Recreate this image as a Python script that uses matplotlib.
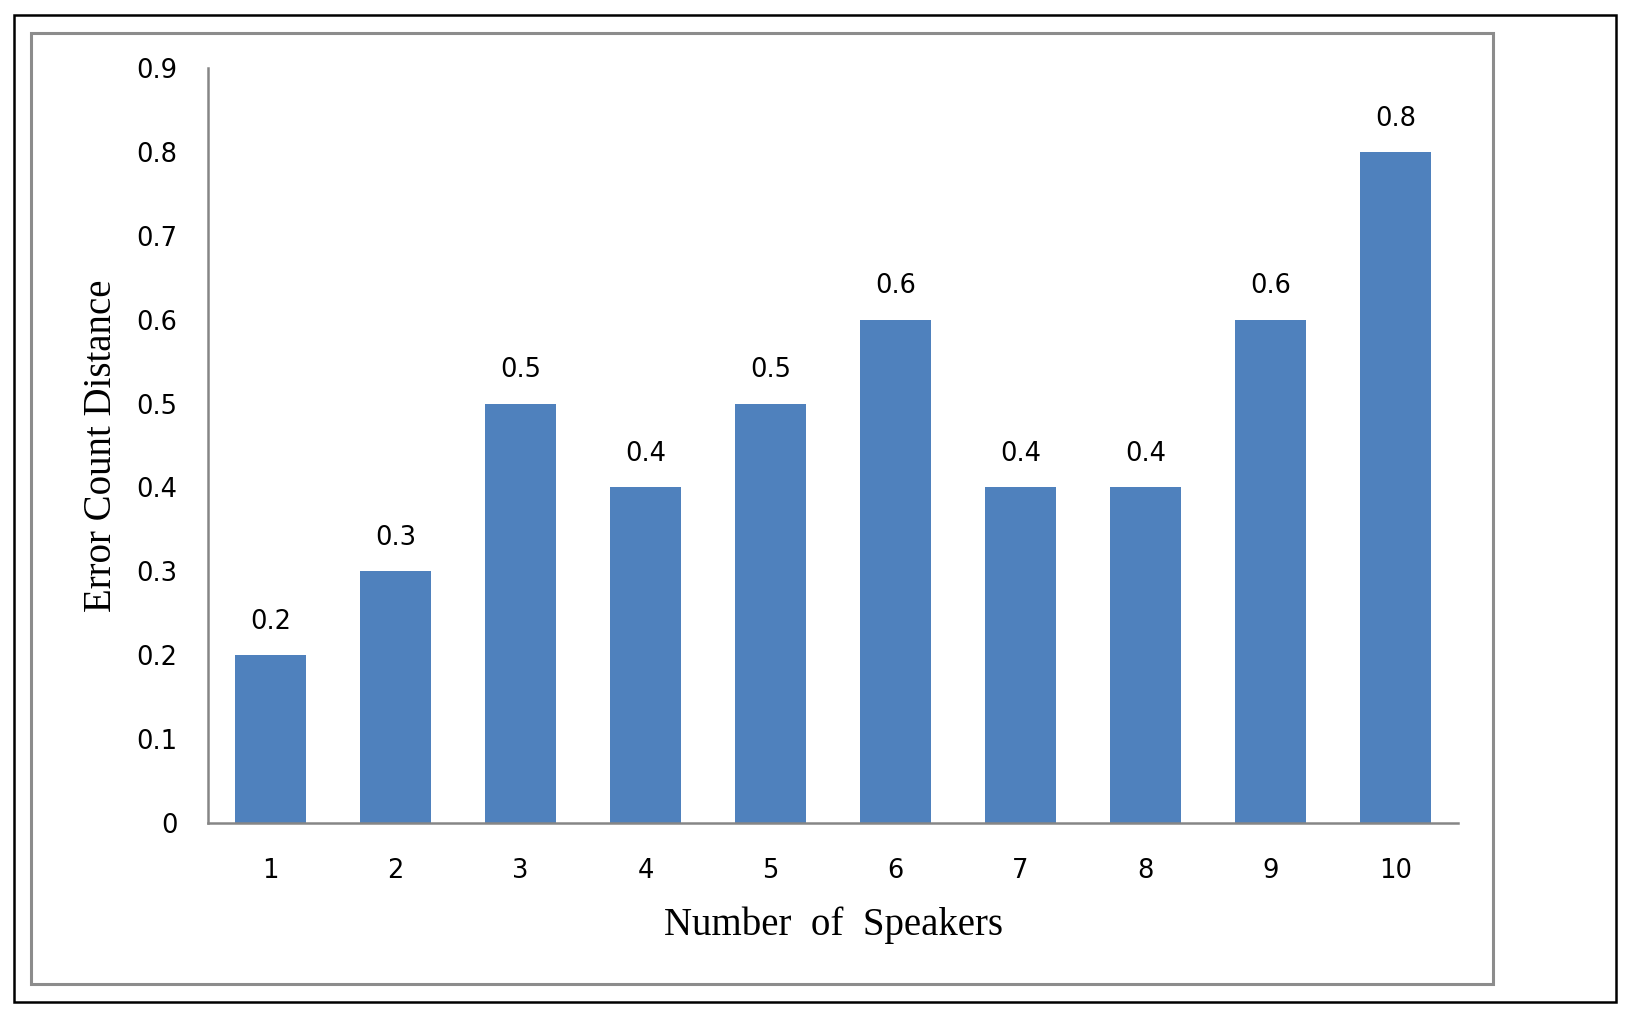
import matplotlib.pyplot as plt
from matplotlib.patches import Rectangle

# data
speakers = ["1", "2", "3", "4", "5", "6", "7", "8", "9", "10"]
error_distance = [0.2, 0.3, 0.5, 0.4, 0.5, 0.6, 0.4, 0.4, 0.6, 0.8]
y_ticks = [0, 0.1, 0.2, 0.3, 0.4, 0.5, 0.6, 0.7, 0.8, 0.9]
y_tick_labels = ["0", "0.1", "0.2", "0.3", "0.4", "0.5", "0.6", "0.7", "0.8", "0.9"]

bar_color = "#4F81BD"
axis_gray = "#868686"

fig = plt.figure(figsize=(16.3, 10.15), dpi=100)

# outer black frame and inner gray chart frame
fig.patches.append(Rectangle((14 / 1630, 1 - 1002 / 1015), (1616 - 14) / 1630, (1002 - 15) / 1015,
                             transform=fig.transFigure, fill=False, edgecolor="black", linewidth=1.8))
fig.patches.append(Rectangle((31 / 1630, 1 - 984 / 1015), (1493 - 31) / 1630, (984 - 33) / 1015,
                             transform=fig.transFigure, fill=False, edgecolor="#8c8c8c", linewidth=2.2))

ax = fig.add_axes([208 / 1630, 1 - 823 / 1015, 1250 / 1630, 755 / 1015])

x = range(len(speakers))
bars = ax.bar(x, error_distance, width=0.57, color=bar_color)

for b, v in zip(bars, error_distance):
    ax.annotate(f"{v:.1f}", (b.get_x() + b.get_width() / 2, v), xytext=(0, 24),
                textcoords="offset points", ha="center", va="center", fontsize=18.5)

ax.set_xlim(-0.5, len(speakers) - 0.5)
ax.set_ylim(0, 0.9)
ax.set_xticks(list(x))
ax.set_xticklabels(speakers, fontsize=18.5)
ax.set_yticks(y_ticks)
ax.set_yticklabels(y_tick_labels, fontsize=18.5)
ax.tick_params(axis="both", length=0)
ax.tick_params(axis="x", pad=25)
ax.tick_params(axis="y", pad=22)

for side in ["top", "right"]:
    ax.spines[side].set_visible(False)
for side in ["left", "bottom"]:
    ax.spines[side].set_color(axis_gray)
    ax.spines[side].set_linewidth(1.8)

ax.set_xlabel("Number  of  Speakers", family="Liberation Serif", fontsize=28, labelpad=16)
ax.set_ylabel("Error Count Distance", family="Liberation Serif", fontsize=28, labelpad=12)

fig.savefig("out.png", dpi=100)
